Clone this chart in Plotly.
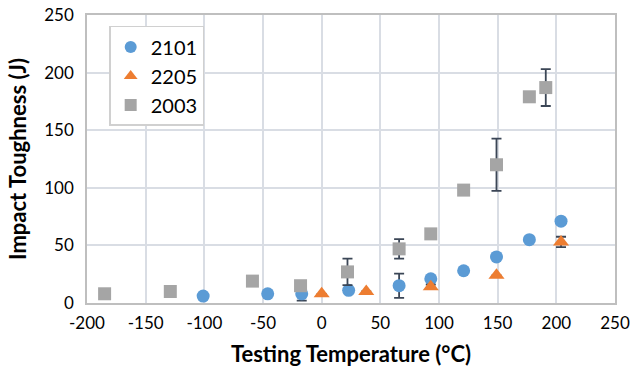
import plotly.graph_objects as go

# 2101 series
x_2101 = [-101, -46, -17, 23, 66, 93, 121, 149, 177, 204]
y_2101 = [6, 8, 8, 11, 15, 21, 28, 40, 55, 71]
e_2101 = [None, None, 6, None, 10.5, None, None, None, None, None]

# 2205 series
x_2205 = [0, 38, 93, 149, 204]
y_2205 = [8, 10, 14, 24, 53]
e_2205 = [None, None, 2, None, 4.5]

# 2003 series
x_2003 = [-185, -129, -59, -18, 22, 66, 93, 121, 149, 177, 191]
y_2003 = [8, 10, 19, 15, 27, 47, 60, 98, 120, 179, 187]
e_2003 = [None, None, None, None, 11.5, 8.5, None, None, 22.7, None, 16]

x_ticks = [-200, -150, -100, -50, 0, 50, 100, 150, 200, 250]
x_tick_text = ["-200", "-150", "-100", "-50", "0", "50", "100", "150", "200", "250"]
y_ticks = [0, 50, 100, 150, 200, 250]

ERR = "#3B4656"
FONT = "Lato"


def err(arr):
    return dict(type="data", array=arr, visible=True, color=ERR,
                thickness=1.8, width=5)


fig = go.Figure()
fig.add_trace(go.Scatter(x=x_2101, y=y_2101, mode="markers", name="2101",
                         error_y=err(e_2101),
                         marker=dict(symbol="circle", size=13, color="#5B9BD5")))
fig.add_trace(go.Scatter(x=x_2205, y=y_2205, mode="markers", name="2205",
                         error_y=err(e_2205),
                         marker=dict(symbol="triangle-up", size=14, color="#ED7D31")))
fig.add_trace(go.Scatter(x=x_2003, y=y_2003, mode="markers", name="2003",
                         error_y=err(e_2003),
                         marker=dict(symbol="square", size=13, color="#A5A5A5")))

fig.update_layout(
    width=632, height=371,
    margin=dict(l=87, r=17, t=15, b=68),
    paper_bgcolor="white", plot_bgcolor="white",
    font=dict(family=FONT, size=17, color="#000000"),
    showlegend=True,
    legend=dict(x=0.042, y=0.962, xanchor="left", yanchor="top",
                bgcolor="white", bordercolor="#D0D0D0", borderwidth=1.5,
                font=dict(size=20, family=FONT), itemsizing="constant"),
    xaxis=dict(range=[-200, 250], tickvals=x_ticks, ticktext=x_tick_text,
               showgrid=True, gridcolor="#D9DDE4", gridwidth=1.5,
               zeroline=False, showline=True, linecolor="#BFBFBF", linewidth=1.5,
               mirror=True, ticks="", tickfont=dict(size=17),
               ticklabelstandoff=4, automargin=False,
               title=dict(text="<b>Testing Temperature (°C)</b>",
                          font=dict(size=22), standoff=14)),
    yaxis=dict(range=[0, 250], tickvals=y_ticks,
               showgrid=True, gridcolor="#D9DDE4", gridwidth=1.5,
               zeroline=False, showline=True, linecolor="#BFBFBF", linewidth=1.5,
               mirror=True, ticks="", tickfont=dict(size=17),
               ticklabelstandoff=8, automargin=False,
               title=dict(text="<b>Impact Toughness (J)</b>",
                          font=dict(size=22), standoff=12)),
)

fig.write_html("out.html")
